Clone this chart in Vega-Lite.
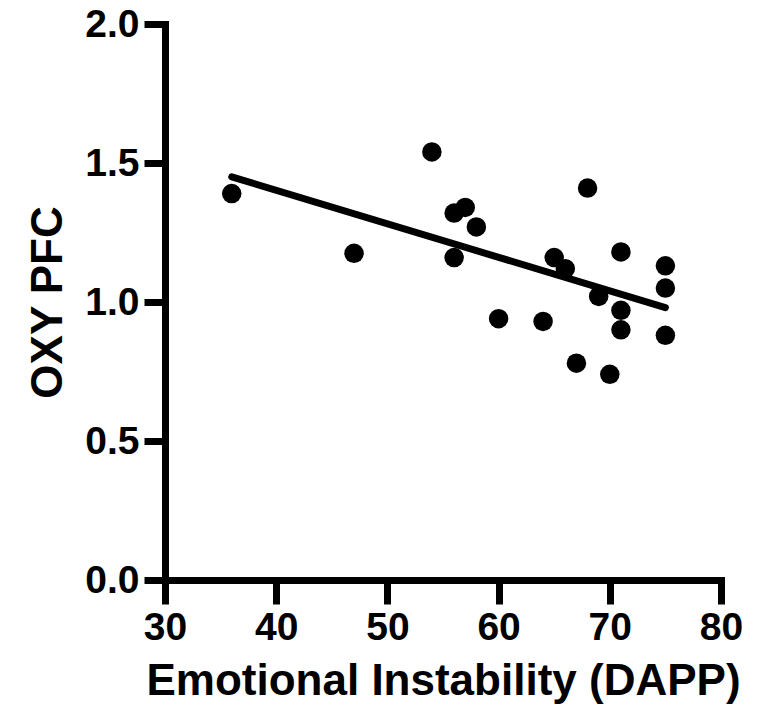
{
  "$schema": "https://vega.github.io/schema/vega-lite/v6.json",
  "width": 556,
  "height": 556,
  "autosize": {"type": "none"},
  "padding": {"left": 165, "top": 24, "right": 38, "bottom": 133},
  "background": "white",
  "config": {
    "view": {"stroke": null},
    "axis": {
      "grid": false,
      "domainColor": "black",
      "domainWidth": 7,
      "domainCap": "square",
      "tickColor": "black",
      "tickWidth": 7,
      "labelFont": "Liberation Sans",
      "labelFontWeight": "bold",
      "labelFontSize": 39,
      "labelColor": "black",
      "labelFlush": false,
      "labelOverlap": false,
      "labelBound": false,
      "titleFont": "Liberation Sans",
      "titleFontWeight": "bold",
      "titleFontSize": 44,
      "titleColor": "black"
    }
  },
  "layer": [
    {
      "data": {
        "values": [
          {"dapp": 36, "oxy": 1.39},
          {"dapp": 47, "oxy": 1.175},
          {"dapp": 54, "oxy": 1.54},
          {"dapp": 56, "oxy": 1.32},
          {"dapp": 57, "oxy": 1.34},
          {"dapp": 58, "oxy": 1.27},
          {"dapp": 56, "oxy": 1.16},
          {"dapp": 60, "oxy": 0.94},
          {"dapp": 64, "oxy": 0.93},
          {"dapp": 65, "oxy": 1.16},
          {"dapp": 66, "oxy": 1.12},
          {"dapp": 68, "oxy": 1.41},
          {"dapp": 67, "oxy": 0.78},
          {"dapp": 69, "oxy": 1.02},
          {"dapp": 70, "oxy": 0.74},
          {"dapp": 71, "oxy": 1.18},
          {"dapp": 71, "oxy": 0.97},
          {"dapp": 71, "oxy": 0.9},
          {"dapp": 75, "oxy": 1.13},
          {"dapp": 75, "oxy": 1.05},
          {"dapp": 75, "oxy": 0.88}
        ]
      },
      "mark": {"type": "circle", "size": 380, "color": "black", "opacity": 1},
      "encoding": {
        "x": {
          "field": "dapp",
          "type": "quantitative",
          "scale": {"domain": [30, 80], "nice": false, "zero": false},
          "axis": {
            "values": [30, 40, 50, 60, 70, 80],
            "format": "d",
            "tickSize": 24,
            "labelPadding": 4,
            "title": "Emotional Instability (DAPP)",
            "titlePadding": 12
          }
        },
        "y": {
          "field": "oxy",
          "type": "quantitative",
          "scale": {"domain": [0, 2], "nice": false},
          "axis": {
            "values": [0, 0.5, 1, 1.5, 2],
            "format": ".1f",
            "tickSize": 21,
            "labelPadding": 5,
            "title": "OXY PFC",
            "titlePadding": 14
          }
        }
      }
    },
    {
      "data": {
        "values": [
          {"dapp": 36, "oxy": 1.45},
          {"dapp": 75, "oxy": 0.98}
        ]
      },
      "mark": {"type": "line", "strokeWidth": 7, "color": "black", "strokeCap": "round"},
      "encoding": {
        "x": {"field": "dapp", "type": "quantitative"},
        "y": {"field": "oxy", "type": "quantitative"}
      }
    }
  ]
}
